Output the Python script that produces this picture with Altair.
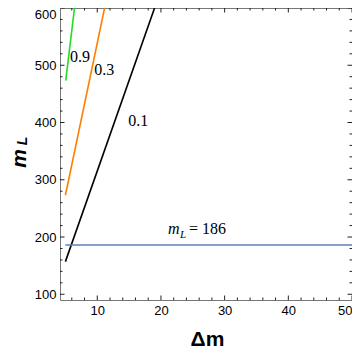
import altair as alt
import pandas as pd

# ---- data ----
dm_01 = [5.0, 19.0]
ml_01 = [157, 600]
dm_03 = [5.0, 11.15]
ml_03 = [273, 600]
dm_09 = [5.05, 6.43]
ml_09 = [473, 600]
dm_ref = [5.0, 50.0]
ml_ref = [186, 186]

series_names = ["0.1", "0.3", "0.9", "ref"]
series_colors = ["#000000", "#ff8000", "#22dd22", "#5e81b5"]
series_widths = [1.6, 1.6, 1.6, 2.0]

curve_labels = ["0.9", "0.3", "0.1"]
curve_label_dm = [7.3, 11.08, 16.44]
curve_label_ml = [515, 491, 403]

ref_label_dm = [21.1]
ref_label_ml = [205]

x_major = [10, 20, 30, 40, 50]
x_minor = [6, 8, 12, 14, 16, 18, 22, 24, 26, 28, 32, 34, 36, 38, 42, 44, 46, 48]
y_major = [100, 200, 300, 400, 500, 600]
y_minor = [v for v in range(120, 600, 20) if v % 100 != 0]

W, H = 292, 292
X_DOMAIN = [4.15, 50]
Y_DOMAIN = [90, 600]

rows = []
for name, xs, ys in [("0.1", dm_01, ml_01), ("0.3", dm_03, ml_03),
                     ("0.9", dm_09, ml_09), ("ref", dm_ref, ml_ref)]:
    for i, (a, b) in enumerate(zip(xs, ys)):
        rows.append({"series": name, "dm": a, "ml": b, "i": i})
df_lines = pd.DataFrame(rows)

df_labels = pd.DataFrame({"t": curve_labels, "dm": curve_label_dm, "ml": curve_label_ml})
df_ref_label = pd.DataFrame({"dm": ref_label_dm, "ml": ref_label_ml})

xscale = alt.Scale(domain=X_DOMAIN, nice=False, zero=False)
yscale = alt.Scale(domain=Y_DOMAIN, nice=False, zero=False)

x_axis = alt.Axis(values=x_major, ticks=False, domain=False, grid=False,
                  labelFont="Liberation Sans", labelFontSize=13, labelColor="black",
                  labelPadding=4, labelFlush=True,
                  title="Δm", titleFont="Liberation Sans", titleFontSize=21,
                  titleFontWeight="bold", titleColor="black",
                  titleX=147, titleY=39, titleBaseline="middle", titleAlign="center")
y_axis = alt.Axis(values=y_major, ticks=False, domain=False, grid=False,
                  labelFont="Liberation Sans", labelFontSize=13, labelColor="black",
                  labelPadding=4, labelFlush=True,
                  title="m", titleFont="Liberation Sans", titleFontSize=21,
                  titleFontWeight="bold", titleFontStyle="italic", titleColor="black",
                  titleAngle=270, titleX=-41, titleY=150, titleBaseline="middle",
                  titleAlign="center")

lines = alt.Chart(df_lines).mark_line().encode(
    x=alt.X("dm:Q", scale=xscale, axis=x_axis),
    y=alt.Y("ml:Q", scale=yscale, axis=y_axis),
    color=alt.Color("series:N", scale=alt.Scale(domain=series_names, range=series_colors), legend=None),
    strokeWidth=alt.StrokeWidth("series:N", scale=alt.Scale(domain=series_names, range=series_widths),
                                legend=None),
    order="i:O",
)

labels = alt.Chart(df_labels).mark_text(font="Liberation Serif", fontSize=16, color="black").encode(
    x=alt.X("dm:Q", scale=xscale), y=alt.Y("ml:Q", scale=yscale), text="t:N")

ref_m = alt.Chart(df_ref_label).mark_text(font="Liberation Serif", fontSize=16, fontStyle="italic",
                                          align="left", baseline="alphabetic", color="black").encode(
    x=alt.X("dm:Q", scale=xscale), y=alt.Y("ml:Q", scale=yscale), text=alt.value("m"))
ref_L = alt.Chart(df_ref_label).mark_text(font="Liberation Serif", fontSize=11, fontStyle="italic",
                                          align="left", baseline="alphabetic", dx=12, dy=4,
                                          color="black").encode(
    x=alt.X("dm:Q", scale=xscale), y=alt.Y("ml:Q", scale=yscale), text=alt.value("L"))
ref_eq = alt.Chart(df_ref_label).mark_text(font="Liberation Serif", fontSize=16,
                                           align="left", baseline="alphabetic", dx=21,
                                           color="black").encode(
    x=alt.X("dm:Q", scale=xscale), y=alt.Y("ml:Q", scale=yscale), text=alt.value("= 186"))

# subscript of the y-axis title
y_sub = alt.Chart(df_ref_label).mark_text(font="Liberation Sans", fontSize=14, fontWeight="bold",
                                          fontStyle="italic", angle=270, color="black").encode(
    x=alt.value(-37), y=alt.value(133), text=alt.value("L"))

def xticks(vals, size):
    d = pd.DataFrame({"v": vals})
    bottom = alt.Chart(d).mark_rule(color="#222", strokeWidth=1).encode(
        x=alt.X("v:Q", scale=xscale), y=alt.value(H), y2=alt.value(H - size))
    top = alt.Chart(d).mark_rule(color="#222", strokeWidth=1).encode(
        x=alt.X("v:Q", scale=xscale), y=alt.value(0), y2=alt.value(size))
    return [bottom, top]

def yticks(vals, size):
    d = pd.DataFrame({"v": vals})
    left = alt.Chart(d).mark_rule(color="#222", strokeWidth=1).encode(
        y=alt.Y("v:Q", scale=yscale), x=alt.value(0), x2=alt.value(size))
    right = alt.Chart(d).mark_rule(color="#222", strokeWidth=1).encode(
        y=alt.Y("v:Q", scale=yscale), x=alt.value(W), x2=alt.value(W - size))
    return [left, right]

ticks = xticks(x_major, 4.5) + xticks(x_minor, 2.5) + yticks(y_major, 4.5) + yticks(y_minor, 2.5)

chart = alt.layer(lines, *ticks, labels, ref_m, ref_L, ref_eq, y_sub).properties(
    width=W, height=H,
    autosize=alt.AutoSizeParams(type="none"),
    padding={"left": 52, "top": 0, "right": 0, "bottom": 52},
).configure_view(stroke="#777", strokeWidth=1)

chart.save("out.html", embed_options={"renderer": "svg", "actions": False})
